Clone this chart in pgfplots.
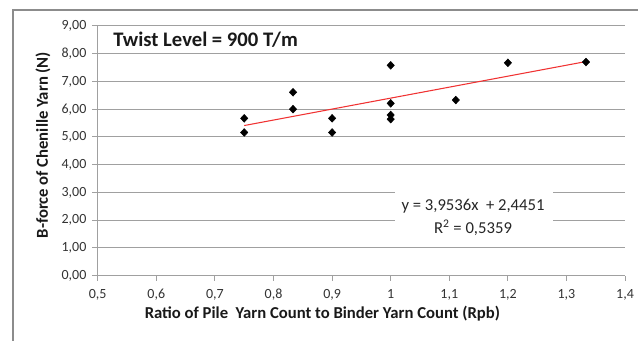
\documentclass[border=0pt]{standalone}
\usepackage{fontspec}
\setmainfont{Carlito}
\usepackage{pgfplots}
\pgfplotsset{compat=1.18}
\definecolor{gridc}{RGB}{160,160,160}
\definecolor{trend}{RGB}{240,50,50}
\begin{document}
\begin{tikzpicture}
\begin{axis}[
  scale only axis, width=395.5pt, height=187.3pt,
  at={(73.3pt,49pt)}, anchor=south west,
  xmin=0.5, xmax=1.4, ymin=0, ymax=9,
  xtick={0.5,0.6,0.7,0.8,0.9,1,1.1,1.2,1.3,1.4},
  ytick={0,1,2,3,4,5,6,7,8,9},
  axis x line*=bottom, axis y line*=left,
  axis line style={draw=gridc, line width=0.9pt},
  ymajorgrids, grid style={draw=gridc, line width=0.75pt},
  tick style={draw=gridc, line width=0.75pt},
  major tick length=4pt, tick align=outside,
  /pgf/number format/assume math mode=true,
  tick label style={font=\fontsize{10.5pt}{12pt}\selectfont, text=black!80},
  x tick label style={yshift=-2.5pt, /pgf/number format/.cd, fixed, precision=1, use comma},
  y tick label style={xshift=-1pt, /pgf/number format/.cd, fixed, fixed zerofill, precision=2, use comma},
  xlabel={Ratio of Pile\ \ Yarn Count to Binder Yarn Count (Rpb)},
  ylabel={B-force of Chenille Yarn (N)},
  label style={font=\bfseries\fontsize{12.5pt}{14pt}\selectfont, text=black!90},
  xlabel style={at={(axis description cs:0.426,-0.151)}, anchor=center},
  ylabel style={at={(axis description cs:-0.1037,0.523)}, anchor=center},
  clip=false,
]
\addplot[only marks, mark=diamond*, mark size=2.9pt, mark options={xscale=1.25}, black] table {
x y
0.75 5.67
0.75 5.16
0.8333 6.61
0.8333 6.00
0.9 5.67
0.9 5.16
1 7.58
1 6.21
1 5.79
1 5.64
1.1111 6.33
1.2 7.67
1.3333 7.70
};
\addplot[trend, line width=0.8pt] coordinates {(0.75,5.4103) (1.3333,7.7164)};
\end{axis}
\fill[white] (296.25pt,76pt) rectangle (414.75pt,117pt);
\node[font=\fontsize{12.5pt}{14pt}\selectfont, text=black!85] at (354.75pt,101.25pt) {y = 3,9536x\ \ + 2,4451};
\node[font=\fontsize{12.5pt}{14pt}\selectfont, text=black!85] at (354.75pt,85pt) {R\textsuperscript{2} = 0,5359};
\node[font=\bfseries\fontsize{15.5pt}{17pt}\selectfont, text=black!90, anchor=west, inner sep=0pt] at (84.75pt,225.75pt) {Twist Level = 900 T/m};
\draw[gray!90, line width=0.9pt] (9.75pt,-2pt) -- (9.75pt,248.25pt) -- (480pt,248.25pt);
\pgfresetboundingbox
\path (0,0) rectangle (478.5pt,255.75pt);
\end{tikzpicture}
\end{document}
